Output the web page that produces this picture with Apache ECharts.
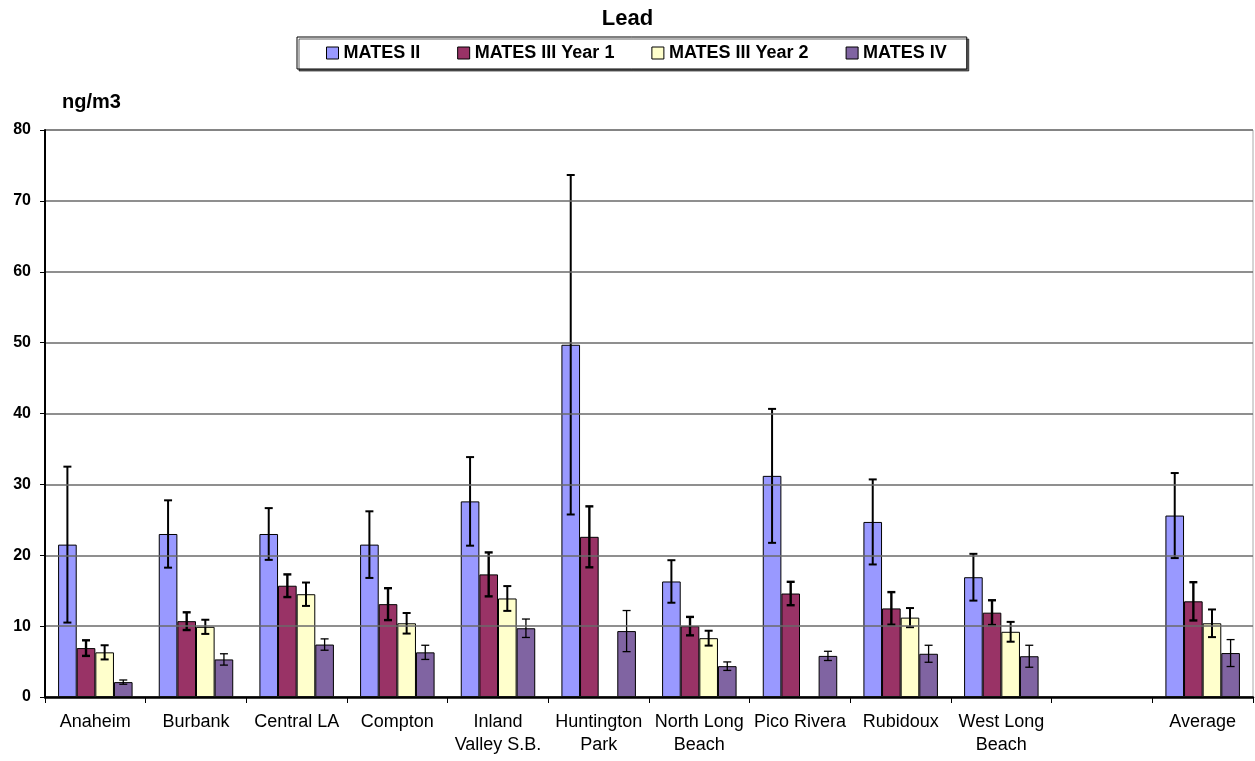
<!DOCTYPE html>
<html>
<head>
<meta charset="utf-8">
<script src="https://cdn.jsdelivr.net/npm/echarts@6/dist/echarts.min.js"></script>
<style>
html,body{margin:0;padding:0;background:#fff;}
#chart{width:1255px;height:761px;}
</style>
</head>
<body>
<div id="chart"></div>
<script>
const categories = ["Anaheim","Burbank","Central LA","Compton","Inland\nValley S.B.","Huntington\nPark","North Long\nBeach","Pico Rivera","Rubidoux","West Long\nBeach","","Average"];
const seriesNames = ["MATES II","MATES III Year 1","MATES III Year 2","MATES IV"];
const matesII    = [21.5, 23.0, 23.0, 21.5, 27.6, 49.7, 16.3, 31.2, 24.7, 16.9, null, 25.6];
const matesIIErr = [11.0, 4.75, 3.65, 4.7, 6.25, 23.95, 3.0, 9.45, 6.0, 3.3, null, 6.0];
const matesIIIY1    = [6.9, 10.7, 15.7, 13.1, 17.3, 22.6, 10.0, 14.6, 12.5, 11.9, null, 13.5];
const matesIIIY1Err = [1.1, 1.25, 1.6, 2.25, 3.1, 4.3, 1.3, 1.65, 2.3, 1.75, null, 2.7];
const matesIIIY2    = [6.3, 9.9, 14.5, 10.4, 13.9, null, 8.3, null, 11.2, 9.2, null, 10.4];
const matesIIIY2Err = [1.0, 1.0, 1.65, 1.45, 1.75, null, 1.05, null, 1.35, 1.4, null, 1.95];
const matesIV    = [2.1, 5.3, 7.4, 6.3, 9.7, 9.3, 4.35, 5.8, 6.1, 5.75, null, 6.2];
const matesIVErr = [0.3, 0.8, 0.8, 1.0, 1.3, 2.9, 0.6, 0.65, 1.2, 1.55, null, 1.9];
const yTicks = {min: 0, max: 80, interval: 10};

const colors = ["#9999FF","#993366","#FFFFCC","#8064A2"];
const errWidths = [2, 2.4, 2, 1.3];
const catGap = 0.26;
const values = [matesII, matesIIIY1, matesIIIY2, matesIV];
const errs = [matesIIErr, matesIIIY1Err, matesIIIY2Err, matesIVErr];
const nSeries = values.length;

const FONT = "'Liberation Sans', Arial, sans-serif";

const series = [];
values.forEach((vals, s) => {
  series.push({
    name: seriesNames[s],
    type: 'bar',
    data: vals.map(v => v == null ? '-' : v),
    barGap: '0%',
    barCategoryGap: (catGap*100) + '%',
    itemStyle: {color: colors[s], borderColor: '#000', borderWidth: 1},
    emphasis: {disabled: true},
    z: 2
  });
});
values.forEach((vals, s) => {
  const errData = [];
  vals.forEach((v, i) => {
    if (v != null && errs[s][i] != null) errData.push([i, v - errs[s][i], v + errs[s][i]]);
  });
  series.push({
    type: 'custom',
    name: seriesNames[s] + ' err',
    data: errData,
    z: 5,
    silent: true,
    renderItem: function (params, api) {
      const ci = api.value(0);
      const c = api.coord([ci, 0]);
      const band = api.size([1, 0])[0];
      const bw = band * (1 - catGap) / nSeries;
      const x = c[0] + (s - (nSeries - 1) / 2) * bw;
      const yLo = api.coord([ci, api.value(1)])[1];
      const yHi = api.coord([ci, api.value(2)])[1];
      const hw = 4;
      const st = {stroke: '#000', lineWidth: errWidths[s]};
      return {
        type: 'group',
        children: [
          {type: 'line', shape: {x1: x, y1: yLo, x2: x, y2: yHi}, style: st},
          {type: 'line', shape: {x1: x - hw, y1: yHi, x2: x + hw, y2: yHi}, style: st},
          {type: 'line', shape: {x1: x - hw, y1: yLo, x2: x + hw, y2: yLo}, style: st}
        ]
      };
    }
  });
});

const chart = echarts.init(document.getElementById('chart'), null, {renderer: 'canvas'});
chart.setOption({
  animation: false,
  backgroundColor: '#fff',
  title: {
    text: 'Lead', left: 'center', top: 3,
    textStyle: {fontFamily: FONT, fontWeight: 'bold', fontSize: 22, color: '#000'}
  },
  legend: {
    data: seriesNames,
    top: 37, left: 297,
    itemWidth: 12, itemHeight: 12, itemGap: 37,
    padding: [7, 20, 7, 29],
    borderColor: '#000', borderWidth: 1,
    shadowColor: 'rgba(0,0,0,0.6)', shadowOffsetX: 2, shadowOffsetY: 2, shadowBlur: 0,
    backgroundColor: '#fff',
    icon: 'rect',
    itemStyle: {borderColor: '#000', borderWidth: 1},
    textStyle: {fontFamily: FONT, fontWeight: 'bold', fontSize: 18, color: '#000'}
  },
  grid: {
    left: 45, right: 2, top: 130, bottom: 64,
    show: true, borderColor: '#aaa', borderWidth: 1, backgroundColor: 'transparent'
  },
  xAxis: {
    type: 'category',
    data: categories,
    axisLine: {lineStyle: {color: '#000', width: 2.5}},
    axisTick: {show: true, length: 6, lineStyle: {color: '#000', width: 1}},
    axisLabel: {fontFamily: FONT, fontSize: 18, color: '#000', margin: 14, lineHeight: 23, interval: 0},
    z: 10
  },
  yAxis: {
    type: 'value',
    min: yTicks.min, max: yTicks.max, interval: yTicks.interval,
    name: 'ng/m3',
    nameLocation: 'end',
    nameGap: 18,
    nameTextStyle: {fontFamily: FONT, fontWeight: 'bold', fontSize: 20, color: '#000', align: 'left', padding: [0, 0, 0, 17]},
    axisLine: {show: true, lineStyle: {color: '#000', width: 2}},
    axisTick: {show: true, length: 5, lineStyle: {color: '#000', width: 1}},
    axisLabel: {fontFamily: FONT, fontWeight: 'bold', fontSize: 16, color: '#000', margin: 14},
    splitLine: {show: true, lineStyle: {color: '#6a6a6a', width: 1.5}},
    z: 10
  },
  series: series
});
</script>
</body>
</html>
